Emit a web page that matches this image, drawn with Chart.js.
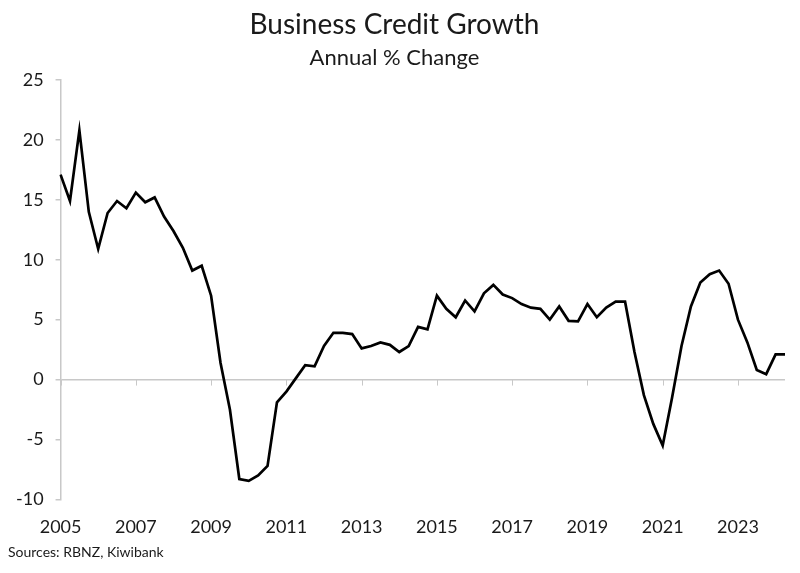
<!DOCTYPE html>
<html>
<head>
<meta charset="utf-8">
<script src="https://cdn.jsdelivr.net/npm/chart.js@4/dist/chart.umd.min.js"></script>
<style>
  html, body { margin: 0; padding: 0; background: #fff; }
  #wrap { width: 800px; height: 573px; position: relative; }
</style>
</head>
<body>
<div id="wrap"><canvas id="creditChart"></canvas></div>
<script>
// Quarterly business credit growth, annual % change (2005 Q1 - 2024 Q2).
var firstYear = 2005;
var growth = [
  17.1, 14.9, 20.8, 14.0, 10.9, 13.9, 14.9, 14.3,
  15.6, 14.8, 15.2, 13.6, 12.4, 11.0, 9.1, 9.5,
  7.0, 1.4, -2.5, -8.3, -8.45, -8.0, -7.2, -1.9,
  -1.0, 0.1, 1.2, 1.1, 2.8, 3.9, 3.9, 3.8,
  2.6, 2.8, 3.1, 2.9, 2.3, 2.8, 4.4, 4.2,
  7.0, 5.9, 5.2, 6.6, 5.7, 7.2, 7.9, 7.1,
  6.8, 6.3, 6.0, 5.9, 5.0, 6.1, 4.9, 4.85,
  6.3, 5.2, 6.0, 6.5, 6.5, 2.3, -1.3, -3.7,
  -5.5, -1.5, 2.8, 6.1, 8.1, 8.8, 9.1, 8.0,
  5.0, 3.1, 0.8, 0.45, 2.1, 2.1
];
var tickYears = ["2005", "2007", "2009", "2011", "2013", "2015", "2017", "2019", "2021", "2023"];
var yTicks = [-10, -5, 0, 5, 10, 15, 20, 25];

// Category labels, one per quarter.
var quarters = [];
for (var i = 0; i < growth.length; i++) {
  quarters.push((firstYear + Math.floor(i / 4)) + " Q" + (i % 4 + 1));
}

var fontName = "Lato, 'DejaVu Sans', sans-serif";
var textColor = "#1a1a1a";
var axisGrey = "#c8c8c8";

// Year label only on the first quarter of the listed years.
function yearLabel(index) {
  var q = quarters[index];
  if (q.slice(-2) !== "Q1") return "";
  var yr = q.slice(0, 4);
  return tickYears.indexOf(yr) >= 0 ? yr : "";
}

// Small tick marks hanging off the zero line, plus the source note.
var extras = {
  id: "extras",
  afterDraw: function (chart) {
    var ctx = chart.ctx;
    var xs = chart.scales.x;
    var ys = chart.scales.y;
    var y0 = ys.getPixelForValue(0);
    ctx.save();
    ctx.strokeStyle = axisGrey;
    ctx.lineWidth = 1;
    for (var i = 0; i < quarters.length; i++) {
      if (yearLabel(i) === "") continue;
      var px = Math.round(xs.getPixelForValue(i)) + 0.5;
      ctx.beginPath();
      ctx.moveTo(px, y0);
      ctx.lineTo(px, y0 + 6);
      ctx.stroke();
    }
    ctx.fillStyle = textColor;
    ctx.font = "14px " + fontName;
    ctx.textBaseline = "middle";
    ctx.textAlign = "left";
    ctx.fillText("Sources: RBNZ, Kiwibank", 8, 552);
    ctx.restore();
  }
};

var data = {
  labels: quarters,
  datasets: [
    {
      label: "Business credit growth",
      data: growth,
      borderColor: "#000",
      borderWidth: 2.7,
      pointRadius: 0,
      tension: 0,
      fill: false
    }
  ]
};

var config = {
  type: "line",
  data: data,
  plugins: [extras],
  options: {
    responsive: true,
    maintainAspectRatio: false,
    animation: false,
    layout: { padding: { left: 4, right: 15, top: 0, bottom: 26 } },
    plugins: {
      legend: { display: false },
      tooltip: { enabled: false },
      title: {
        display: true,
        text: "Business Credit Growth",
        color: textColor,
        font: { family: fontName, size: 28, weight: "normal" },
        padding: { top: 8, bottom: 0 }
      },
      subtitle: {
        display: true,
        text: "Annual % Change",
        color: textColor,
        font: { family: fontName, size: 22, weight: "normal" },
        padding: { top: 3, bottom: 9 }
      }
    },
    scales: {
      x: {
        type: "category",
        offset: false,
        grid: { display: false },
        border: { display: false },
        ticks: {
          autoSkip: false,
          maxRotation: 0,
          padding: 9,
          color: textColor,
          font: { family: fontName, size: 18 },
          callback: function (value, index) { return yearLabel(index); }
        }
      },
      y: {
        min: -10,
        max: 25,
        afterBuildTicks: function (scale) {
          scale.ticks = yTicks.map(function (v) { return { value: v }; });
        },
        grid: {
          color: function (c) { return c.tick && c.tick.value === 0 ? axisGrey : "rgba(0,0,0,0)"; },
          tickColor: axisGrey,
          tickLength: 5,
          lineWidth: 1.5
        },
        border: { display: true, color: axisGrey, width: 1.5 },
        ticks: {
          padding: 12,
          color: textColor,
          font: { family: fontName, size: 18 }
        }
      }
    }
  }
};

var myChart = new Chart(document.getElementById("creditChart"), config);
</script>
</body>
</html>
